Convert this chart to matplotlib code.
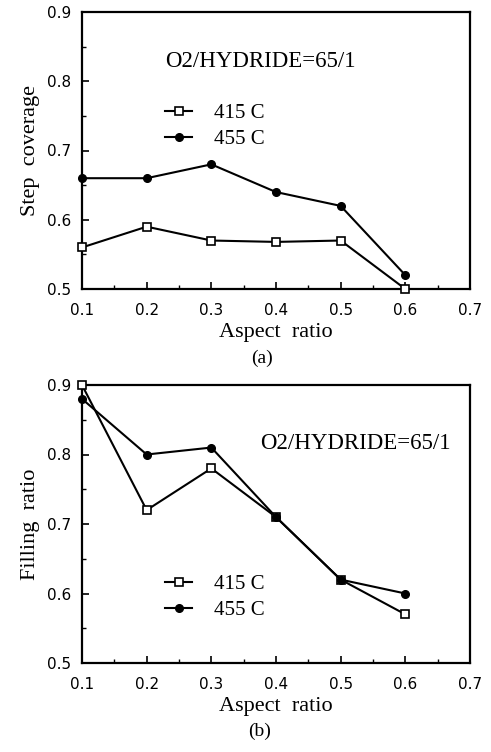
import matplotlib
matplotlib.use("Agg")
import matplotlib.pyplot as plt
from matplotlib.ticker import MultipleLocator

aspect = [0.1, 0.2, 0.3, 0.4, 0.5, 0.6]
step_415 = [0.56, 0.59, 0.57, 0.568, 0.57, 0.50]
step_455 = [0.66, 0.66, 0.68, 0.64, 0.62, 0.52]
fill_415 = [0.90, 0.72, 0.78, 0.71, 0.62, 0.57]
fill_455 = [0.88, 0.80, 0.81, 0.71, 0.62, 0.60]
xticks = [0.1, 0.2, 0.3, 0.4, 0.5, 0.6, 0.7]
xticklabels = ["0.1", "0.2", "0.3", "0.4", "0.5", "0.6", "0.7"]
yticks = [0.5, 0.6, 0.7, 0.8, 0.9]
yticklabels = ["0.5", "0.6", "0.7", "0.8", "0.9"]
series_labels = ["415 C", "455 C"]
ratio_text = "O2/HYDRIDE=65/1"

serif = ["Liberation Serif", "DejaVu Serif"]
W, H = 491, 752
fig = plt.figure(figsize=(W / 100, H / 100), dpi=100)

def axes_px(l, t, r, b):
    return fig.add_axes([l / W, 1 - b / H, (r - l) / W, (b - t) / H])

ax1 = axes_px(82, 12, 470, 289)
ax2 = axes_px(82, 385, 470, 663)

def style(ax, ylabel):
    ax.set_xlim(0.1, 0.7)
    ax.set_ylim(0.5, 0.9)
    ax.set_xticks(xticks)
    ax.set_xticklabels(xticklabels, fontsize=11, family="DejaVu Sans")
    ax.set_yticks(yticks)
    ax.set_yticklabels(yticklabels, fontsize=11, family="DejaVu Sans")
    ax.xaxis.set_minor_locator(MultipleLocator(0.05))
    ax.yaxis.set_minor_locator(MultipleLocator(0.05))
    ax.tick_params(which="both", direction="in", color="black")
    ax.tick_params(which="major", length=5, width=1.2)
    ax.tick_params(which="minor", length=3, width=1)
    ax.tick_params(axis="x", which="major", pad=10)
    ax.tick_params(axis="y", which="major", pad=8)
    for s in ax.spines.values():
        s.set_linewidth(1.6)
    ax.set_ylabel(ylabel, fontsize=16, family=serif, labelpad=5)
    ax.set_xlabel("Aspect  ratio", fontsize=16, family=serif, labelpad=4)

for ax, a, b in [(ax1, step_415, step_455), (ax2, fill_415, fill_455)]:
    ax.plot(aspect, a, color="black", lw=1.5, marker="s", ms=6,
            mfc="white", mec="black", mew=1.2, label=series_labels[0], clip_on=False, zorder=3)
    ax.plot(aspect, b, color="black", lw=1.5, marker="o", ms=5.5,
            mfc="black", mec="black", label=series_labels[1], clip_on=False, zorder=3)

style(ax1, "Step  coverage")
style(ax2, "Filling  ratio")

ax1.text(0.214, 0.82, ratio_text, transform=ax1.transAxes, fontsize=16.5, family=serif, va="center")
ax2.text(0.459, 0.79, ratio_text, transform=ax2.transAxes, fontsize=16.5, family=serif, va="center")

for ax, yc in [(ax1, 0.587), (ax2, 0.237)]:
    ax.legend(loc="center left", bbox_to_anchor=(0.214, yc), frameon=False,
              prop={"family": serif, "size": 15}, handlelength=1.3,
              handletextpad=1.05, labelspacing=0.3, borderpad=0, borderaxespad=0)

fig.text(262 / W, 1 - 358 / H, "(a)", fontsize=14, family=serif, ha="center", va="center")
fig.text(260 / W, 1 - 731 / H, "(b)", fontsize=14, family=serif, ha="center", va="center")

fig.savefig("out.png", dpi=100)
